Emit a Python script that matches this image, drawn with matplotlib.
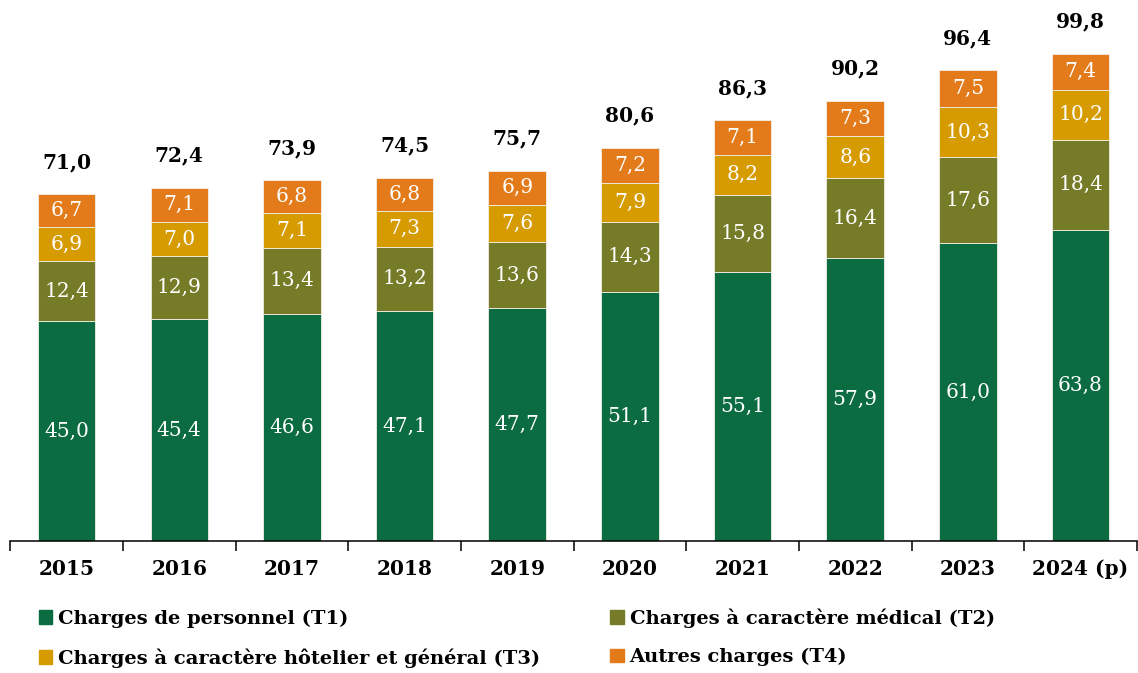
import matplotlib.pyplot as plt
import numpy as np
from matplotlib.patches import Patch

plt.rcParams['font.family'] = ['DejaVu Serif']

# DATA
years = ['2015', '2016', '2017', '2018', '2019', '2020', '2021', '2022', '2023', '2024 (p)']
t1 = [45.0, 45.4, 46.6, 47.1, 47.7, 51.1, 55.1, 57.9, 61.0, 63.8]
t2 = [12.4, 12.9, 13.4, 13.2, 13.6, 14.3, 15.8, 16.4, 17.6, 18.4]
t3 = [6.9, 7.0, 7.1, 7.3, 7.6, 7.9, 8.2, 8.6, 10.3, 10.2]
t4 = [6.7, 7.1, 6.8, 6.8, 6.9, 7.2, 7.1, 7.3, 7.5, 7.4]
totals = [71.0, 72.4, 73.9, 74.5, 75.7, 80.6, 86.3, 90.2, 96.4, 99.8]

series = [
    ('Charges de personnel (T1)', t1, '#0B6B41'),
    ('Charges à caractère médical (T2)', t2, '#767B28'),
    ('Charges à caractère hôtelier et général (T3)', t3, '#D69B00'),
    ('Autres charges (T4)', t4, '#E37B1B'),
]


def fr(v):
    return f"{v:.1f}".replace('.', ',')


fig = plt.figure(figsize=(11.38, 6.73), dpi=100)
ax = fig.add_axes([0.009, 0.196, 0.99, 0.804])

x = np.arange(len(years))
bottom = np.zeros(len(years))
containers = []
for name, vals, col in series:
    bars = ax.bar(x, vals, width=0.51, bottom=bottom, color=col,
                  edgecolor='#f2efe6', linewidth=0.6, label=name)
    ax.bar_label(bars, labels=[fr(v) for v in vals], label_type='center',
                 color='white', fontsize=14.5)
    bottom += np.array(vals)
    containers.append(bars)

ax.bar_label(containers[-1], labels=[fr(v) for v in totals], padding=16,
             fontsize=14.5, fontweight='bold', color='black')

ax.set_xlim(-0.5, 9.5)
ax.set_ylim(0, 110.8)
for s in ['top', 'right', 'left']:
    ax.spines[s].set_visible(False)
ax.spines['bottom'].set_linewidth(1.1)
ax.set_yticks([])

ax.set_xticks(np.arange(-0.5, 10, 1))
ax.set_xticklabels([])
ax.tick_params(axis='x', which='major', length=7, width=1.1, direction='out')
ax.set_xticks(x, minor=True)
ax.set_xticklabels(years, minor=True, fontsize=14.5, fontweight='bold')
ax.tick_params(axis='x', which='minor', length=0, pad=13)

handles = [Patch(color=c) for _, _, c in series]
labels = [n for n, _, _ in series]
order = [0, 2, 1, 3]
fig.legend([handles[i] for i in order], [labels[i] for i in order],
           ncol=2, loc='upper left', bbox_to_anchor=(0.027, 0.108),
           frameon=False, prop={'size': 14, 'weight': 'bold'},
           handlelength=0.7, handleheight=0.7, handletextpad=0.3,
           columnspacing=3.6, labelspacing=1.05, borderaxespad=0)

fig.savefig('out.png', dpi=100)
